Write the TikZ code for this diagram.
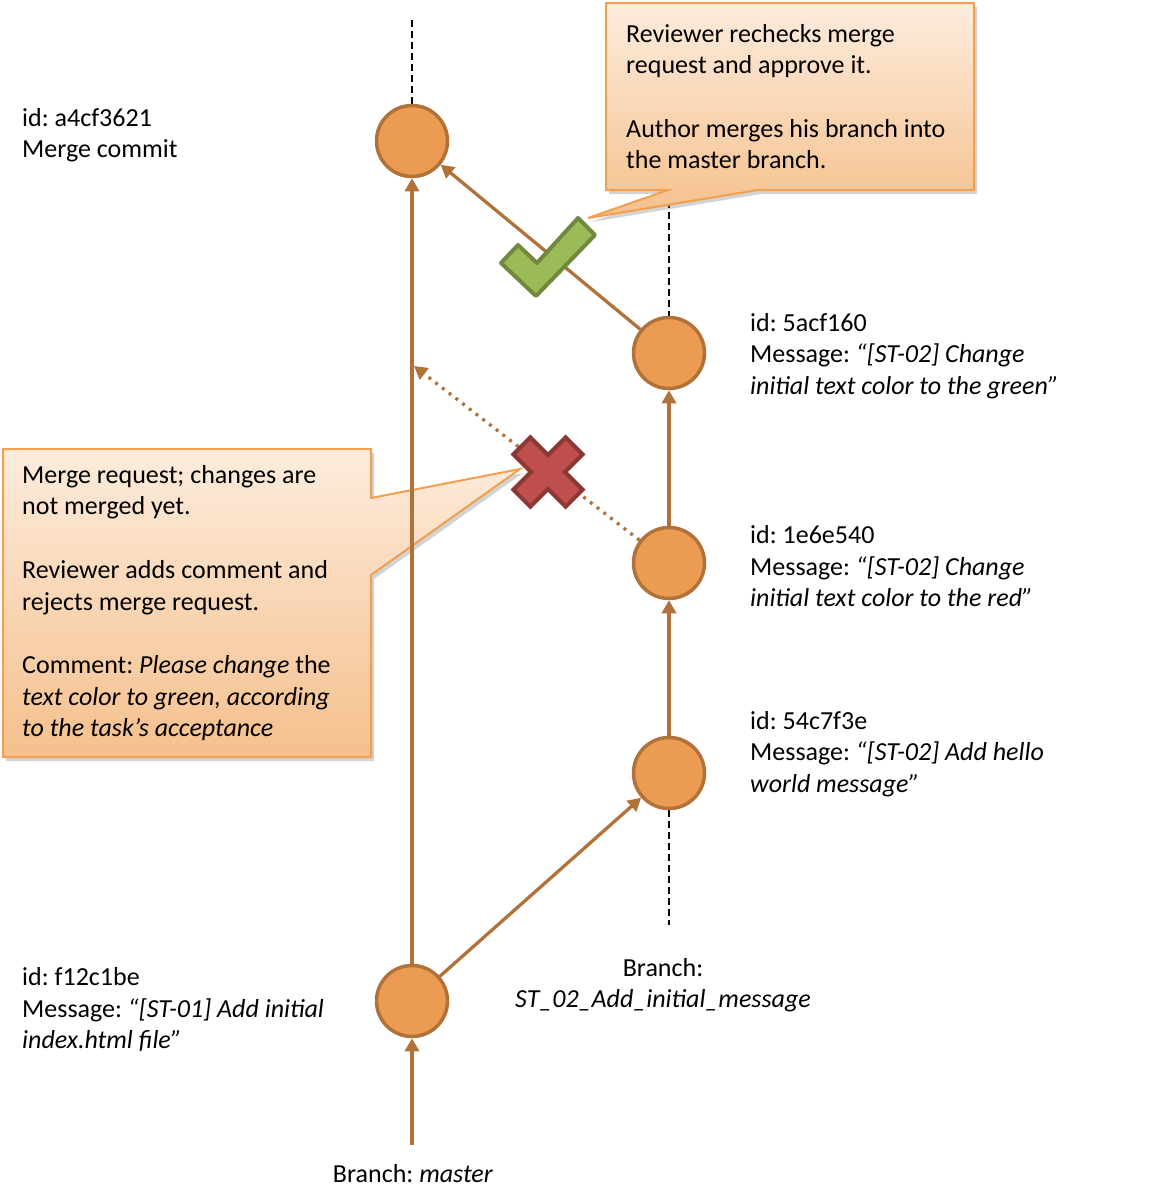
\documentclass[tikz,border=0pt]{standalone}
\usepackage{fontspec}
\setmainfont{Carlito}
\usetikzlibrary{arrows.meta,shadows}

\definecolor{circfill}{RGB}{235,156,82}
\definecolor{circdraw}{RGB}{176,114,57}
\definecolor{linkbrown}{RGB}{177,114,58}
\definecolor{calloutedge}{RGB}{241,160,80}
\definecolor{callouttop}{RGB}{253,236,221}
\definecolor{calloutbottom}{RGB}{245,192,140}
\definecolor{okfill}{RGB}{155,187,89}
\definecolor{okdraw}{RGB}{113,137,63}
\definecolor{nofill}{RGB}{192,80,77}
\definecolor{nodraw}{RGB}{140,56,54}

\frenchspacing

\begin{document}
\begin{tikzpicture}[x=1pt,y=-1pt,
  commit/.style={circle, minimum size=71pt, inner sep=0pt, fill=circfill,
    draw=circdraw, line width=3.5pt},
  link/.style={draw=linkbrown, line width=3.3pt,
    -{Triangle[length=13pt,width=14pt]}},
  pending/.style={link, dash pattern=on 3pt off 5.5pt},
  trunk/.style={draw=black, line width=1.5pt, dash pattern=on 7pt off 4pt},
  lbl/.style={anchor=north west, inner sep=0pt, align=left,
    font=\fontsize{26}{31.7}\selectfont},
  centrelbl/.style={lbl, anchor=north, align=center},
  callout/.style={draw=calloutedge, line width=2pt, line join=miter,
    top color=callouttop, bottom color=calloutbottom,
    drop shadow={opacity=0.35, shadow xshift=3pt, shadow yshift=-4pt}},
  okmark/.style={fill=okfill, draw=okdraw, line width=4pt, line join=round},
  nomark/.style={fill=nofill, draw=nodraw, line width=4pt, line join=miter}]

\useasboundingbox (0,0) rectangle (1164,1195);

% dashed branch continuations
\coordinate (mtop) at (412,20);
\coordinate (mtopend) at (412,104);
\coordinate (btop) at (669,190);
\coordinate (btopend) at (669,317);
\coordinate (bbot) at (669,810);
\coordinate (bbotend) at (669,925);
\draw[trunk] (mtop) -- (mtopend);
\draw[trunk] (btop) -- (btopend);
\draw[trunk] (bbot) -- (bbotend);

% callouts
\path[callout] (606,3) -- (974,3) -- (974,190) -- (758,190) -- (588,218)
  -- (668,190) -- (606,190) -- cycle;
\path[callout] (3,449) -- (371,449) -- (371,498) -- (520,469) -- (371,575)
  -- (371,757) -- (3,757) -- cycle;

% commits
\node[commit] (merge) at (412,141) {};
\node[commit] (f12)   at (412,1001) {};
\node[commit] (c5acf) at (669,353) {};
\node[commit] (c1e6e) at (669,563) {};
\node[commit] (c54c7) at (669,773) {};

% connectors
\coordinate (mstart) at (412,1145);
\coordinate (mrq) at (414,366);
\draw[link] (mstart) -- (f12);
\draw[link] (f12) -- (merge);
\draw[link] (f12) -- (c54c7);
\draw[link] (c54c7) -- (c1e6e);
\draw[link] (c1e6e) -- (c5acf);
\draw[link] (c5acf) -- (merge);
\draw[pending] (c1e6e) -- (mrq);

% approve mark
\path[okmark] (501,263) -- (518,245) -- (537,263) -- (578,218) -- (595,235)
  -- (536,296) -- cycle;

% reject mark
\begin{scope}[shift={(548,472)}, rotate=45]
  \path[nomark] (12,37) -- (12,12) -- (37,12) -- (37,-12) -- (12,-12)
    -- (12,-37) -- (-12,-37) -- (-12,-12) -- (-37,-12) -- (-37,12)
    -- (-12,12) -- (-12,37) -- cycle;
\end{scope}

% labels
\node[lbl] (lmerge) at (22,103.8) {\strut id: a4cf3621\\Merge commit};
\node[lbl] (l5acf) at (750,308.8) {\strut id: 5acf160\\Message: \textit{“[ST-02] Change}\\\textit{initial text color to the green”}};
\node[lbl] (l1e6e) at (750,521) {\strut id: 1e6e540\\Message: \textit{“[ST-02] Change}\\\textit{initial text color to the red”}};
\node[lbl] (l54c7) at (750,706.8) {\strut id: 54c7f3e\\Message: \textit{“[ST-02] Add hello}\\\textit{world message”}};
\node[lbl] (lf12) at (22,963) {\strut id: f12c1be\\Message: \textit{“[ST-01] Add initial}\\\textit{index.html file”}};
\node[centrelbl] (lbranch) at (663,953.8) {\strut Branch:\\\textit{ST\_02\_Add\_initial\_message}};
\node[centrelbl] (lmaster) at (413,1159.8) {\strut Branch: \textit{master}};

\node[lbl] (ltop) at (626,19.8) {\strut Reviewer rechecks merge\\request and approve it.\\[31.7pt]Author merges his branch into\\the master branch.};
\node[lbl] (lleft) at (22,460.8) {\strut Merge request; changes are\\not merged yet.\\[31.7pt]Reviewer adds comment and\\rejects merge request.\\[31.7pt]Comment: \textit{Please change} the\\\textit{text color to green, according}\\\textit{to the task’s acceptance}};
\end{tikzpicture}
\end{document}
